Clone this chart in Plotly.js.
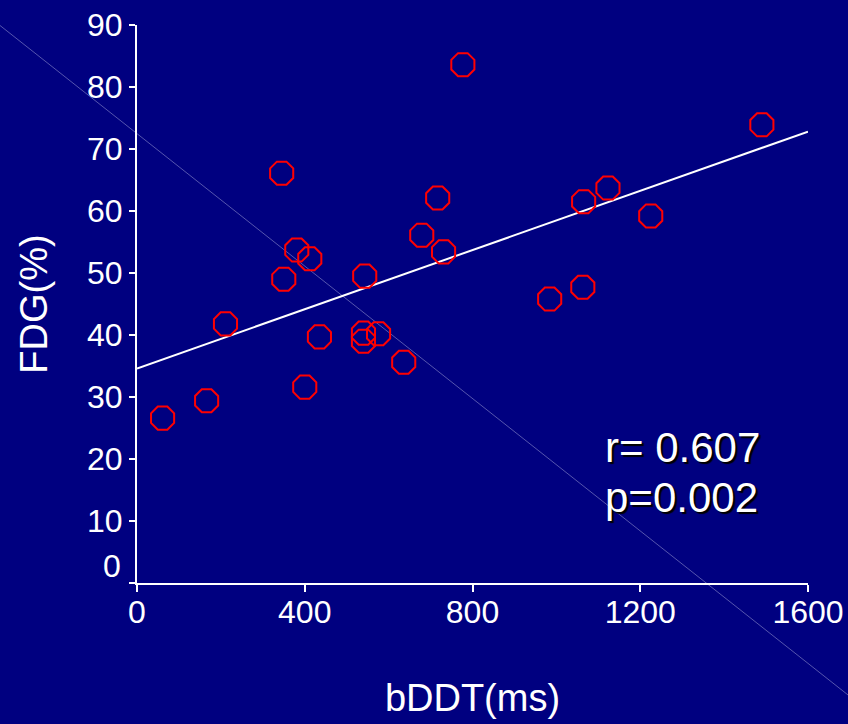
<!DOCTYPE html>
<html>
<head>
<meta charset="utf-8">
<script src="https://cdn.plot.ly/plotly-3.0.1.min.js"></script>
<style>html,body{margin:0;padding:0;background:#000080;}</style>
</head>
<body>
<div id="chart" style="width:848px;height:724px;"></div>
<script>
var bDDT = [61, 166, 211, 345, 350, 381, 412, 400, 435, 543, 540, 540, 576, 636, 679, 717, 731, 777, 984, 1063, 1065, 1123, 1225, 1490];
var FDG  = [26.6, 29.4, 41.8, 66.1, 49.0, 53.7, 52.3, 31.6, 39.7, 49.5, 40.3, 39.0, 40.2, 35.6, 56.1, 62.1, 53.4, 83.6, 45.8, 47.7, 61.5, 63.7, 59.2, 73.9];
var fitX = [0, 1600];
var fitY = [34.6, 72.8];
var yTicks = [10, 20, 30, 40, 50, 60, 70, 80, 90];
var xTicks = [0, 400, 800, 1200, 1600];
var stats = ["r= 0.607", "p=0.002"];

var font = "Arial, 'Liberation Sans', sans-serif";

var traces = [
  {x: fitX, y: fitY, mode: 'lines', type: 'scatter', line: {color: '#ffffff', width: 2}, hoverinfo: 'skip'},
  {x: bDDT, y: FDG, mode: 'markers', type: 'scatter',
   marker: {symbol: 'octagon-open', size: 25, color: '#ff0000', line: {color: '#ff0000', width: 2}}}
];

var layout = {
  width: 848, height: 724,
  paper_bgcolor: '#000080', plot_bgcolor: 'rgba(0,0,0,0)',
  showlegend: false,
  margin: {l: 137, r: 40, t: 25, b: 141, pad: 0},
  font: {family: font, color: '#ffffff', size: 32},
  xaxis: {
    range: [0, 1600], tickvals: xTicks, ticktext: xTicks.map(String),
    showgrid: false, zeroline: false, showline: true, linecolor: '#ffffff', linewidth: 2,
    ticks: 'outside', ticklen: 7, tickwidth: 2, tickcolor: '#ffffff',
    ticklabelstandoff: -7,
    tickfont: {family: font, size: 32, color: '#ffffff'},
    title: {text: 'bDDT(ms)', font: {family: font, size: 38, color: '#ffffff'}, standoff: 55},
    fixedrange: true
  },
  yaxis: {
    range: [0, 90], tickvals: [0].concat(yTicks), ticktext: [''].concat(yTicks.map(String)),
    showgrid: false, zeroline: false, showline: true, linecolor: '#ffffff', linewidth: 2,
    ticks: 'outside', ticklen: 6, tickwidth: 2, tickcolor: '#ffffff',
    tickfont: {family: font, size: 32, color: '#ffffff'},
    title: {text: 'FDG(%)', font: {family: font, size: 38, color: '#ffffff'}, standoff: 28},
    fixedrange: true
  },
  shapes: [
    {type: 'line', xref: 'paper', yref: 'paper', x0: -0.2051, y0: 1.0, x1: 1.0597, y1: -0.2007,
     line: {color: 'rgba(170,170,220,0.5)', width: 1}, layer: 'below'}
  ],
  annotations: [
    {xref: 'x', yref: 'y', x: 0, y: 0, text: '0', showarrow: false, xanchor: 'right', yanchor: 'middle',
     xshift: -14, yshift: 17, font: {family: font, size: 32, color: '#ffffff'}},
    {xref: 'paper', yref: 'paper', x: 0.694, y: 0.242, text: stats[0], showarrow: false, xanchor: 'left', yanchor: 'middle',
     font: {family: font, size: 42, color: '#ffffff', shadow: '2px 2px 1px #000000'}},
    {xref: 'paper', yref: 'paper', x: 0.694, y: 0.153, text: stats[1], showarrow: false, xanchor: 'left', yanchor: 'middle',
     font: {family: font, size: 42, color: '#ffffff', shadow: '2px 2px 1px #000000'}}
  ]
};

Plotly.newPlot('chart', traces, layout, {displayModeBar: false, staticPlot: true});
</script>
</body>
</html>
